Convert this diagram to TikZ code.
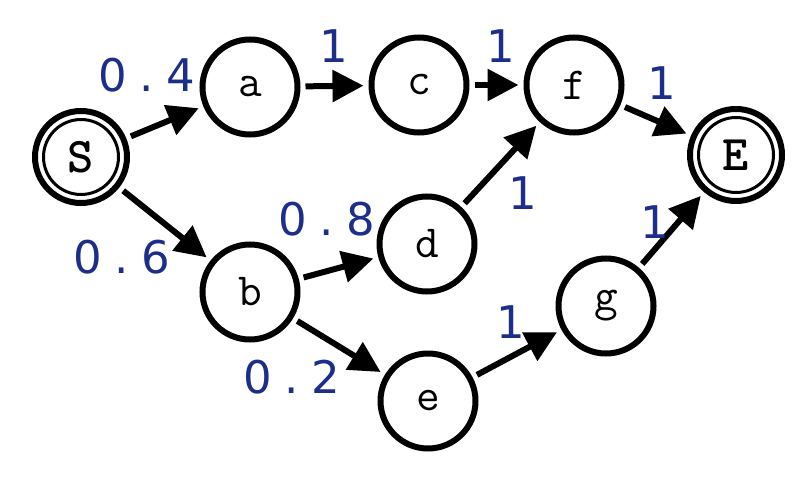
\documentclass[tikz,border=0pt]{standalone}
\usepackage{fontspec}
\newfontfamily\lblfont{DejaVu Sans}
\usetikzlibrary{arrows.meta}
\definecolor{lblblue}{RGB}{28,46,138}
\newcommand{\mch}[1]{\makebox[34pt][c]{#1}}
\newcommand{\lblnum}[3]{\mch{#1}\mch{#2}\mch{#3}}
\tikzset{
  state/.style={circle,draw=black,line width=6pt,minimum size=95pt,inner sep=0pt,outer sep=8pt,font=\ttfamily\fontsize{46}{46}\selectfont},
  innerring/.style={circle,draw=black,line width=3pt,minimum size=75pt,inner sep=0pt,font=\ttfamily\bfseries\fontsize{50}{50}\selectfont},
  edge/.style={line width=6pt,-{Triangle[length=31pt 0,width=31pt 0]}},
  lbl/.style={text=lblblue,font=\lblfont\fontsize{45}{45}\selectfont,inner sep=0pt}
}
\begin{document}
\begin{tikzpicture}[x=1pt,y=-1pt]
\useasboundingbox (0,0) rectangle (810,476);
\node[state,minimum size=92pt] (S) at (81,157) {};
\node[innerring] (Si) at (81,157) {S};
\node[state,minimum size=92pt] (E) at (736,155) {};
\node[innerring] (Ei) at (736,155) {E};
\node[state] (a) at (250,87) {a};
\node[state] (c) at (419,85) {c};
\node[state] (f) at (574,85) {f};
\node[state] (d) at (427,244) {d};
\node[state] (b) at (250,292) {b};
\node[state] (g) at (606,306) {g};
\node[state] (e) at (428,401) {e};
\draw[edge] (S) -- (a);
\draw[edge] (S) -- (b);
\draw[edge] (a) -- (c);
\draw[edge] (c) -- (f);
\draw[edge] (f) -- (E);
\draw[edge] (b) -- (d);
\draw[edge] (b) -- (e);
\draw[edge] (d) -- (f);
\draw[edge] (e) -- (g);
\draw[edge] (g) -- (E);
\node[lbl] (l1) at (147,75) {\lblnum{0}{.}{4}};
\node[lbl] (l2) at (334,46) {1};
\node[lbl] (l3) at (501,46) {1};
\node[lbl] (l4) at (662,83) {1};
\node[lbl] (l5) at (122,257) {\lblnum{0}{.}{6}};
\node[lbl] (l6) at (327,219) {\lblnum{0}{.}{8}};
\node[lbl] (l7) at (523,193) {1};
\node[lbl] (l8) at (292,377) {\lblnum{0}{.}{2}};
\node[lbl] (l9) at (511,322) {1};
\node[lbl] (l10) at (655,222) {1};
\end{tikzpicture}
\end{document}
